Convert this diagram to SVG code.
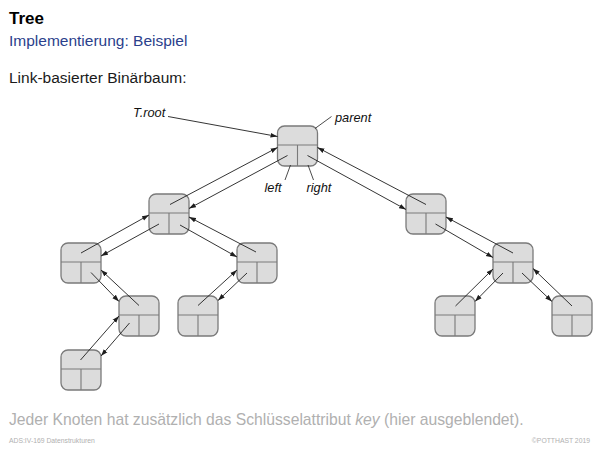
<svg xmlns="http://www.w3.org/2000/svg" xmlns:xlink="http://www.w3.org/1999/xlink" width="600" height="450" viewBox="0 0 600 450">
<style>
  .title { font-family: "Liberation Sans", Arial, sans-serif; font-weight: bold; font-size: 17px; fill: #000; }
  .sub { font-family: "Liberation Sans", Arial, sans-serif; font-size: 15.5px; fill: #2b3f8c; }
  .body { font-family: "Liberation Sans", Arial, sans-serif; font-size: 15.5px; fill: #1a1a1a; }
  .note { font-family: "Liberation Sans", Arial, sans-serif; font-size: 15.7px; fill: #b0b0b0; }
  .foot { font-family: "Liberation Sans", Arial, sans-serif; font-size: 6.8px; fill: #b0b0b0; }
  .lbl { font-family: "Liberation Sans", Arial, sans-serif; font-size: 12.8px; font-style: italic; fill: #111; }
  .box { fill: #dcdcdc; stroke: #7a7a7a; stroke-width: 1.3; }
  .div { stroke: #7a7a7a; stroke-width: 1.1; fill: none; }
  .arr { stroke: #1e1e1e; stroke-width: 0.9; fill: none; marker-end: url(#ah); }
  .lead { stroke: #1e1e1e; stroke-width: 0.8; fill: none; }
</style>
<defs>
  <marker id="ah" markerUnits="userSpaceOnUse" markerWidth="8" markerHeight="6" refX="7" refY="3" orient="auto">
    <path d="M0,0.6 L7,3 L0,5.4 Z" fill="#1e1e1e"/>
  </marker>
  <g id="node">
    <rect class="box" x="0" y="0" width="40" height="40" rx="7" ry="7"/>
    <path class="div" d="M0,19 H40 M20,19 V40"/>
  </g>
</defs>

<text class="title" x="9" y="24">Tree</text>
<text class="sub" x="9" y="46">Implementierung: Beispiel</text>
<text class="body" x="9" y="83">Link-basierter Binärbaum:</text>

<g id="nodes">
  <g id="root"><use xlink:href="#node" x="277.5" y="126"/></g>
  <g id="n-a"><use xlink:href="#node" x="149" y="194"/></g>
  <g id="n-b"><use xlink:href="#node" x="61" y="243"/></g>
  <g id="n-c"><use xlink:href="#node" x="119" y="296"/></g>
  <g id="n-d"><use xlink:href="#node" x="61" y="350"/></g>
  <g id="n-e"><use xlink:href="#node" x="237" y="243"/></g>
  <g id="n-f"><use xlink:href="#node" x="178" y="296"/></g>
  <g id="n-g"><use xlink:href="#node" x="406" y="194"/></g>
  <g id="n-h"><use xlink:href="#node" x="493" y="243"/></g>
  <g id="n-i"><use xlink:href="#node" x="435" y="296"/></g>
  <g id="n-j"><use xlink:href="#node" x="552" y="296"/></g>
</g>

<g id="connectors">
  <!-- T.root -->
  <path class="arr" d="M168,116.5 L277.5,136.5"/>
  <!-- root - A -->
  <path class="arr" d="M170,204.5 L277.5,147.5"/>
  <path class="arr" d="M287.5,155.5 L189,208.5"/>
  <!-- root - G -->
  <path class="arr" d="M426,204.5 L317.5,147.5"/>
  <path class="arr" d="M307.5,155.5 L406,209.5"/>
  <!-- A - B -->
  <path class="arr" d="M81,253 L149,215"/>
  <path class="arr" d="M159,224 L101,256"/>
  <!-- A - E -->
  <path class="arr" d="M256,252 L189,217"/>
  <path class="arr" d="M180,225 L237,257"/>
  <!-- B - C -->
  <path class="arr" d="M139,305.5 L101,270"/>
  <path class="arr" d="M91,272.5 L119,301.5"/>
  <!-- C - D -->
  <path class="arr" d="M80.5,360 L119,316"/>
  <path class="arr" d="M129.5,323 L101,356"/>
  <!-- E - F -->
  <path class="arr" d="M198,305.5 L237,270"/>
  <path class="arr" d="M247,273 L218,300.5"/>
  <!-- G - H -->
  <path class="arr" d="M513,253 L446,217"/>
  <path class="arr" d="M435.5,224 L493,257.5"/>
  <!-- H - I -->
  <path class="arr" d="M455.5,306 L493,269"/>
  <path class="arr" d="M503,273 L475,301.5"/>
  <!-- H - J -->
  <path class="arr" d="M572,306 L533,268.5"/>
  <path class="arr" d="M522,273 L552,301.5"/>
  <!-- label leaders -->
  <path class="lead" d="M331.5,116.5 L315,128.5"/>
  <path class="lead" d="M285,180 L290.5,165"/>
  <path class="lead" d="M313.5,180 L308,165"/>
</g>

<text class="lbl" x="133" y="117">T.root</text>
<text class="lbl" x="335" y="122">parent</text>
<text class="lbl" x="264.5" y="192">left</text>
<text class="lbl" x="306.5" y="192">right</text>

<text class="note" x="9" y="425">Jeder Knoten hat zusätzlich das Schlüsselattribut <tspan font-style="italic">key</tspan> (hier ausgeblendet).</text>
<text class="foot" x="9" y="443">ADS:IV-169    Datenstrukturen</text>
<text class="foot" x="590" y="443" text-anchor="end">©POTTHAST 2019</text>
</svg>
